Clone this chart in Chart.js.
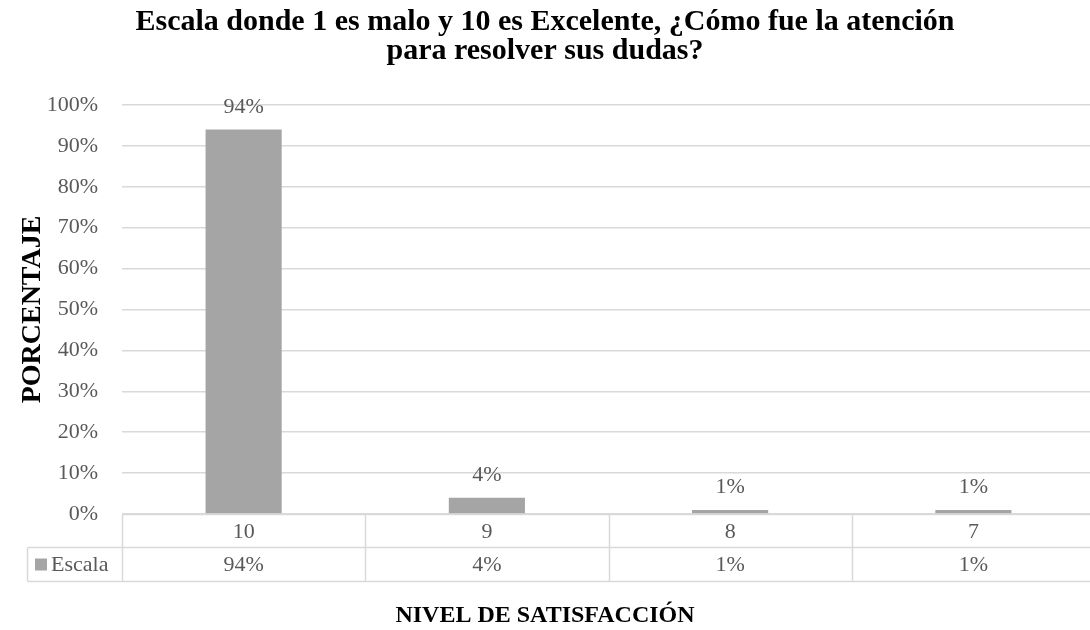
<!DOCTYPE html>
<html>
<head>
<meta charset="utf-8">
<script src="https://cdn.jsdelivr.net/npm/chart.js@4"></script>
<style>
  html, body { margin: 0; padding: 0; overflow: hidden; background: #fff; }
  canvas { display: block; }
</style>
</head>
<body>
<canvas id="chart" width="1095" height="630"></canvas>
<script>
// Survey result: rating of the attention received (scale 1-10)
const chartTitle = ['Escala donde 1 es malo y 10 es Excelente, ¿Cómo fue la atención', 'para resolver sus dudas?'];
const xAxisTitle = 'NIVEL DE SATISFACCIÓN';
const yAxisTitle = 'PORCENTAJE';
const categories = ['10', '9', '8', '7'];
const seriesName = 'Escala';
const escala = [94, 4, 1, 1];
const yTickValues = [0, 10, 20, 30, 40, 50, 60, 70, 80, 90, 100];

const FONT = '"Liberation Serif", "Times New Roman", serif';
const TEXT = '#595959';
const GRID = '#d9d9d9';
const BAR = '#a5a5a5';

const pct = v => v + '%';

// Value labels above each bar
const barLabels = {
  id: 'barLabels',
  afterDatasetsDraw(chart) {
    const { ctx } = chart;
    const meta = chart.getDatasetMeta(0);
    ctx.save();
    ctx.font = '22px ' + FONT;
    ctx.fillStyle = TEXT;
    ctx.textAlign = 'center';
    ctx.textBaseline = 'alphabetic';
    meta.data.forEach((bar, i) => {
      ctx.fillText(pct(escala[i]), bar.x, bar.y - 17);
    });
    ctx.restore();
  }
};

// Data table under the plot, chart title and axis titles
const tableAndTitles = {
  id: 'tableAndTitles',
  afterDraw(chart) {
    const { ctx, chartArea: a, scales: { x } } = chart;
    const n = categories.length;
    const step = (a.right - a.left) / n;
    const r0 = Math.round(a.bottom) + 0.5;
    const r1 = r0 + 33;
    const r2 = r1 + 34;
    const legendLeft = 27.5;

    const line = (x1, y1, x2, y2) => {
      ctx.beginPath(); ctx.moveTo(x1, y1); ctx.lineTo(x2, y2); ctx.stroke();
    };

    ctx.save();
    ctx.strokeStyle = GRID;
    ctx.lineWidth = 1.5;
    line(a.left, r0, a.right, r0);
    line(legendLeft, r1, a.right, r1);
    line(legendLeft, r2, a.right, r2);
    line(legendLeft, r1, legendLeft, r2);
    for (let i = 0; i <= n; i++) {
      const xb = Math.round(a.left + i * step) + 0.5;
      line(xb, r0, xb, r2);
    }

    ctx.font = '22px ' + FONT;
    ctx.fillStyle = TEXT;
    ctx.textAlign = 'center';
    ctx.textBaseline = 'middle';
    categories.forEach((c, i) => {
      const cx = x.getPixelForValue(i);
      ctx.fillText(c, cx, (r0 + r1) / 2 + 1);
      ctx.fillText(pct(escala[i]), cx, (r1 + r2) / 2 + 1);
    });

    // series key in the table's first column
    ctx.fillStyle = BAR;
    ctx.fillRect(35, (r1 + r2) / 2 - 6, 12, 12);
    ctx.fillStyle = TEXT;
    ctx.textAlign = 'left';
    ctx.fillText(seriesName, 51, (r1 + r2) / 2 + 1);

    // chart title
    ctx.fillStyle = '#000';
    ctx.textAlign = 'center';
    ctx.textBaseline = 'alphabetic';
    ctx.font = 'bold 30px ' + FONT;
    ctx.fillText(chartTitle[0], 545, 30);
    ctx.fillText(chartTitle[1], 545, 59);

    // axis titles
    ctx.font = 'bold 24px ' + FONT;
    ctx.fillText(xAxisTitle, 545, 622);
    ctx.save();
    ctx.font = 'bold 28px ' + FONT;
    ctx.translate(40, (a.top + a.bottom) / 2);
    ctx.rotate(-Math.PI / 2);
    ctx.fillText(yAxisTitle, 0, 0);
    ctx.restore();

    ctx.restore();
  }
};

new Chart(document.getElementById('chart'), {
  type: 'bar',
  data: {
    labels: categories,
    datasets: [{
      label: seriesName,
      data: escala,
      backgroundColor: BAR,
      borderWidth: 0,
      barPercentage: 0.313,
      categoryPercentage: 1
    }]
  },
  options: {
    responsive: false,
    animation: false,
    events: [],
    layout: { padding: { top: 105, bottom: 116, left: 0, right: 0 } },
    plugins: {
      legend: { display: false },
      title: { display: false },
      tooltip: { enabled: false }
    },
    scales: {
      x: { display: false },
      y: {
        min: 0,
        max: 100,
        afterBuildTicks(scale) {
          scale.ticks = yTickValues.map(v => ({ value: v }));
        },
        afterFit(scale) { scale.width = 122; },
        border: { display: false },
        grid: { color: GRID, lineWidth: 1.5, drawTicks: false },
        ticks: {
          padding: 24,
          color: TEXT,
          font: { family: FONT, size: 22 },
          callback: v => pct(v)
        }
      }
    }
  },
  plugins: [barLabels, tableAndTitles]
});
</script>
</body>
</html>
